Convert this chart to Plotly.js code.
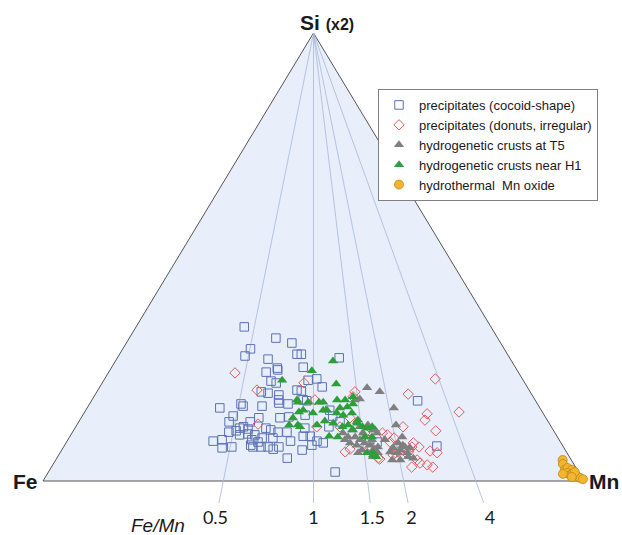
<!DOCTYPE html>
<html>
<head>
<meta charset="utf-8">
<script src="https://cdn.plot.ly/plotly-3.0.1.min.js"></script>
<style>
html,body{margin:0;padding:0;background:#ffffff;}
#chart{width:622px;height:535px;}
</style>
</head>
<body>
<div id="chart"></div>
<script>
// ---- Data: ternary compositions (Fe, Mn, Si(x2)), in % ----
const cocoidFe = [45.6,41.0,38.6,46.9,48.7,44.8,38.9,44.1,44.2,46.6,46.7,46.0,48.6,49.7,46.8,47.4,47.7,46.1,42.9,54.8,54.6,51.1,59.1,57.6,53.0,49.1,47.4,59.0,55.1,56.9,57.7,58.7,60.2,56.3,52.9,52.2,51.1,49.4,58.5,56.9,55.7,54.7,52.7,56.8,55.9,64.1,62.3,61.3,63.2,57.6,57.4,55.9,54.6,53.9,52.6,49.8,52.3,38.1,31.5,39.2,39.8,38.0,37.9,42.2,44.2,45.7,45.6,46.3,46.9,43.9,44.9,39.1,41.1,38.5,48.6,45.0,42.8,42.3,39.2,35.0,33.9,21.8,23.3];
const cocoidMn = [20.0,27.1,30.6,23.6,23.4,28.0,32.8,30.7,31.0,29.1,31.0,32.2,31.8,30.4,34.0,34.5,34.9,36.7,36.8,28.0,28.6,32.1,24.5,27.9,32.8,36.7,38.3,27.8,31.7,31.0,30.5,30.1,28.9,32.1,35.3,36.4,38.0,39.6,31.2,32.6,34.0,35.7,37.7,34.0,35.4,27.0,28.5,31.1,29.4,34.4,35.0,36.5,37.8,39.0,39.8,41.3,42.6,33.6,41.0,35.4,37.8,39.2,41.1,37.7,41.1,42.5,44.4,45.7,43.1,47.5,46.2,45.1,46.8,48.3,44.4,53.0,39.0,39.8,46.3,55.8,57.4,60.3,68.9];
const cocoidSi = [34.4,31.9,30.8,29.5,27.9,27.2,28.3,25.2,24.8,24.3,22.3,21.9,19.6,19.9,19.2,18.1,17.4,17.2,20.3,17.2,16.7,16.7,16.3,14.5,14.1,14.1,14.3,13.2,13.2,12.1,11.8,11.2,10.9,11.6,11.8,11.4,10.9,10.9,10.3,10.5,10.3,9.6,9.6,9.2,8.7,8.9,9.2,7.6,7.4,8.0,7.6,7.6,7.6,7.1,7.6,8.9,5.1,28.3,27.5,25.4,22.5,22.8,21.0,20.1,14.7,11.8,10.0,8.0,10.0,8.5,8.9,15.8,12.1,13.2,6.9,2.0,18.1,17.9,14.5,9.2,8.7,17.9,7.8];

const donutFe = [52.4,50.3,53.9,40.8,40.7,32.4,33.3,36.2,43.4,39.1,35.2,40.9,39.7,35.9,35.5,16.1,22.8,21.5,22.6,15.4,27.4,21.8,31.9,31.2,30.3,31.5,27.3,28.0,26.7,25.1,24.0,31.7,31.1,30.2,29.8,32.4,29.2,28.5,28.3,27.2,26.4,30.3,35.3,35.5];
const donutMn = [23.4,29.4,33.4,37.3,41.2,47.7,47.9,49.7,44.6,48.9,54.2,52.6,53.2,56.7,59.4,61.1,57.8,63.5,63.8,69.2,60.5,67.0,57.4,58.5,60.1,59.8,64.2,64.4,65.7,68.2,69.7,62.0,62.4,63.0,63.7,61.8,64.3,66.8,67.7,69.2,70.5,66.6,59.8,57.1];
const donutSi = [24.1,20.3,12.7,21.9,18.1,19.9,18.8,14.1,12.1,12.1,10.7,6.5,7.1,7.4,5.1,22.8,19.4,15.0,13.6,15.4,12.1,11.2,10.7,10.3,9.6,8.7,8.5,7.6,7.6,6.7,6.3,6.3,6.5,6.9,6.5,5.8,6.5,4.7,4.0,3.6,3.1,3.1,4.9,7.4];

const t5Fe = [29.7,27.8,32.3,33.3,35.4,35.4,37.2,39.2,38.7,37.4,36.8,36.3,38.0,39.0,39.6,37.6,38.6,35.6,35.2,34.3,34.6,35.5,33.3,33.7,32.9,27.0,28.5,32.9,32.2,28.7,30.1,29.5,30.5,31.6,32.6,31.4,33.1,31.6,29.5,29.8,28.5,29.0,29.3,35.6,35.0,36.3];
const t5Mn = [49.5,52.3,49.4,48.6,51.4,52.5,51.4,50.1,51.5,52.8,54.0,55.2,54.0,52.5,51.2,55.5,55.1,56.4,57.9,58.1,56.2,53.8,55.3,53.8,56.4,56.7,59.0,55.7,58.6,61.5,61.4,62.5,62.6,61.0,60.9,62.3,62.2,63.7,64.2,64.8,64.1,65.9,63.1,57.6,58.8,58.3];
const t5Si = [20.8,19.9,18.3,18.1,13.2,12.1,11.4,10.7,9.8,9.8,9.2,8.5,8.0,8.5,9.2,6.9,6.3,8.0,6.9,7.6,9.2,10.7,11.4,12.5,10.7,16.3,12.5,11.4,9.2,9.8,8.5,8.0,6.9,7.4,6.5,6.3,4.7,4.7,6.3,5.4,7.4,5.1,7.6,6.9,6.3,5.4];

const h1Fe = [44.6,46.8,48.3,46.7,45.0,33.0,38.0,35.0,44.0,42.2,42.5,40.2,39.4,39.6,41.2,46.5,43.1,36.6,35.1,35.5,34.1,37.0,38.1,37.2,35.3,35.0,39.9,38.6,37.4,34.9,34.2,37.0,35.5,35.6,34.3,35.9,35.7,37.0,42.1,40.6,44.0,44.1,40.3,33.3,33.1,36.1];
const h1Mn = [33.0,39.2,39.3,40.9,39.6,40.2,37.4,43.4,40.2,40.2,42.3,42.2,43.0,44.6,45.4,41.5,44.4,45.3,46.8,48.0,48.7,46.8,46.7,48.2,49.5,51.4,47.2,49.3,50.2,53.0,54.0,51.6,51.6,54.6,55.9,57.9,58.9,56.8,47.9,49.6,37.9,38.3,43.9,47.9,54.8,58.1];
const h1Si = [22.5,14.1,12.5,12.5,15.4,26.8,24.6,21.7,15.8,17.6,15.2,17.6,17.6,15.8,13.4,12.1,12.5,18.1,18.1,16.5,17.2,16.3,15.2,14.7,15.2,13.6,12.9,12.1,12.5,12.1,11.8,11.4,12.9,9.8,9.8,6.3,5.4,6.3,10.0,9.8,18.1,17.6,15.8,18.8,12.1,5.8];

const hydroFe = [1.6,2.0,2.3,1.6,1.0,2.2,1.9,1.1,0.8,0.4,0.0,3.1,0.7,1.8];
const hydroMn = [93.8,94.2,95.3,95.6,96.6,96.0,96.8,97.1,98.3,99.0,99.6,95.3,97.3,97.4];
const hydroSi = [4.7,3.8,2.5,2.9,2.5,1.8,1.3,1.8,0.9,0.7,0.4,1.6,2.0,0.9];

// Fe/Mn reference lines (label values along the base)
const ratioValues = [0.5, 1, 1.5, 2, 4];
const ratioLabels = ['0.5', '1', '1.5', '2', '4'];

// Triangle vertices (Fe, Mn, Si)
const vertexFe = [100, 0, 0, 100];
const vertexMn = [0, 100, 0, 0];
const vertexSi = [0, 0, 100, 0];

// ---- projection of ternary composition onto the triangle plane ----
function project(fe, mn, si) {
  const x = [], y = [];
  for (let i = 0; i < fe.length; i++) {
    const t = fe[i] + mn[i] + si[i];
    const b = mn[i] / t, c = si[i] / t;
    x.push(b + c / 2);
    y.push(c);
  }
  return {x, y};
}

const tri = project(vertexFe, vertexMn, vertexSi);
const apex = project([0], [0], [100]);

// ratio lines from apex to the base, continued a little below
const lineExt = 0.049, labelExt = 0.087;
const rlX = [], rlY = [], labX = [], labY = [];
ratioValues.forEach(r => {
  const base = project([1 / (1 + r)], [r / (1 + r)], [0]);
  const bx = base.x[0];
  const dx = bx - apex.x[0];
  rlX.push(apex.x[0], bx + dx * lineExt, null);
  rlY.push(apex.y[0], -lineExt, null);
  labX.push(bx + dx * labelExt);
  labY.push(-labelExt);
});

const series = [
  {name: 'precipitates (cocoid-shape)', fe: cocoidFe, mn: cocoidMn, si: cocoidSi,
   marker: {symbol: 'square-open', size: 8.5, color: '#5b72b3', line: {width: 1}}},
  {name: 'precipitates (donuts, irregular)', fe: donutFe, mn: donutMn, si: donutSi,
   marker: {symbol: 'diamond-open', size: 8, color: '#e25c5c', line: {width: 1}}},
  {name: 'hydrogenetic crusts at T5', fe: t5Fe, mn: t5Mn, si: t5Si,
   marker: {symbol: 'triangle-up', size: 9, color: '#7f7f7f', line: {width: 0}}},
  {name: 'hydrogenetic crusts near H1', fe: h1Fe, mn: h1Mn, si: h1Si,
   marker: {symbol: 'triangle-up', size: 9, color: '#2f9e3a', line: {width: 0}}},
  {name: 'hydrothermal  Mn oxide', fe: hydroFe, mn: hydroMn, si: hydroSi,
   marker: {symbol: 'circle', size: 9, color: '#f3b52f', line: {width: 0.8, color: '#b98a1a'}}}
];

const traces = [
  {x: tri.x, y: tri.y, mode: 'lines', fill: 'toself', fillcolor: '#e8eefa',
   line: {color: '#555555', width: 1}, showlegend: false, hoverinfo: 'skip'},
  {x: rlX, y: rlY, mode: 'lines', line: {color: '#aab8d4', width: 0.8},
   showlegend: false, hoverinfo: 'skip'},
  {x: labX, y: labY, mode: 'text', text: ratioLabels, textposition: 'middle center',
   textfont: {family: 'Lato, "Open Sans", sans-serif', size: 18, color: '#1a1a1a'},
   showlegend: false, hoverinfo: 'skip', cliponaxis: false}
];
series.forEach(s => {
  const p = project(s.fe, s.mn, s.si);
  traces.push({x: p.x, y: p.y, mode: 'markers', type: 'scatter', name: s.name,
               marker: s.marker, cliponaxis: false});
});

const layout = {
  width: 622, height: 535,
  margin: {l: 0, r: 0, t: 0, b: 0},
  paper_bgcolor: '#ffffff', plot_bgcolor: '#ffffff',
  xaxis: {range: [-43 / 541, 579 / 541], visible: false, fixedrange: true},
  yaxis: {range: [-54 / 448, 481 / 448], visible: false, fixedrange: true},
  showlegend: true,
  legend: {
    x: 378 / 622, y: 1 - 89 / 535, xanchor: 'left', yanchor: 'top',
    bgcolor: '#ffffff', bordercolor: '#808080', borderwidth: 1,
    font: {family: '"Liberation Sans", Arial, sans-serif', size: 13, color: '#1a1a1a'},
    tracegroupgap: 0
  },
  annotations: [
    {x: apex.x[0], y: apex.y[0], xref: 'x', yref: 'y', xanchor: 'left', yanchor: 'bottom',
     xshift: -16, yshift: -3, showarrow: false,
     text: '<b>Si</b> <b><span style="font-size:16px">(x2)</span></b>',
     font: {family: '"Liberation Sans", Arial, sans-serif', size: 21, color: '#1a1a1a'}},
    {x: tri.x[0], y: tri.y[0], xref: 'x', yref: 'y', xanchor: 'right', yanchor: 'middle',
     xshift: -3, yshift: 0, showarrow: false, text: '<b>Fe</b>',
     font: {family: '"Liberation Sans", Arial, sans-serif', size: 21, color: '#1a1a1a'}},
    {x: tri.x[1], y: tri.y[1], xref: 'x', yref: 'y', xanchor: 'left', yanchor: 'middle',
     xshift: 3, yshift: 0, showarrow: false, text: '<b>Mn</b>',
     font: {family: '"Liberation Sans", Arial, sans-serif', size: 21, color: '#1a1a1a'}},
    {x: (158 - 43) / 541, y: -0.1, xref: 'x', yref: 'y', xanchor: 'center', yanchor: 'middle',
     showarrow: false, text: '<i>Fe/Mn</i>',
     font: {family: '"Liberation Sans", Arial, sans-serif', size: 19, color: '#1a1a1a'}}
  ]
};

Plotly.newPlot('chart', traces, layout, {displayModeBar: false, staticPlot: true});
</script>
</body>
</html>
